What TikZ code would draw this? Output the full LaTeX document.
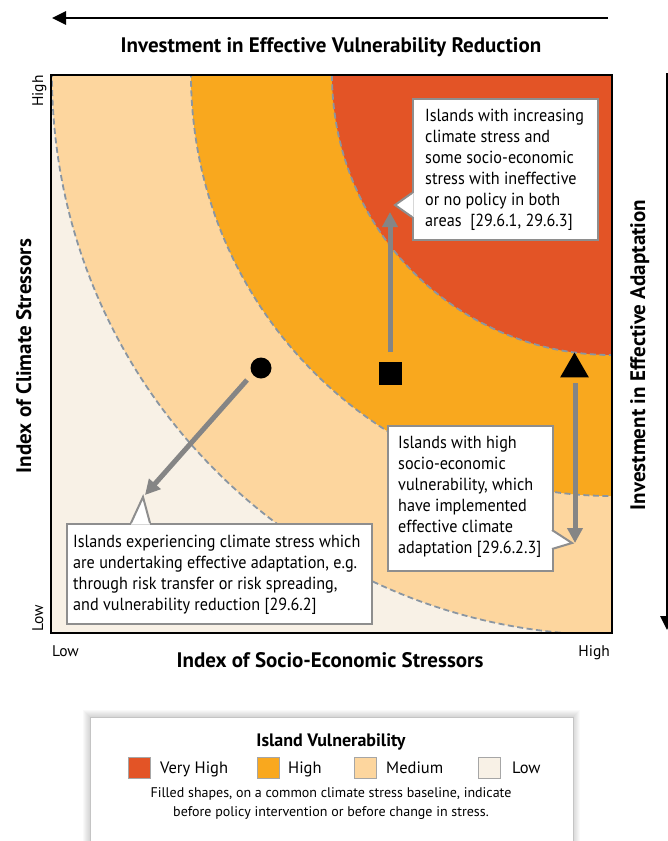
\documentclass[tikz,border=0pt]{standalone}
\usepackage{fontspec}
\setmainfont{PT Sans}
\newfontfamily\narrowfont{PT Sans}[FakeStretch=0.925]
\usetikzlibrary{arrows.meta,shapes.geometric}
\definecolor{vhighc}{HTML}{E35426}
\definecolor{highc}{HTML}{F9A81E}
\definecolor{medc}{HTML}{FDD69E}
\definecolor{lowc}{HTML}{F8F1E6}
\definecolor{zoneline}{HTML}{8A96A2}
\definecolor{arrowgray}{HTML}{858585}
\definecolor{calloutgray}{HTML}{8E8E8E}
\definecolor{legendgray}{HTML}{C4C4C4}
\begin{document}
\begin{tikzpicture}[x=1pt,y=-1pt,
  zone/.style={draw=zoneline, line width=1.8pt, dash pattern=on 6pt off 3.5pt},
  garrow/.style={draw=arrowgray, line width=5pt, -{Triangle[length=15pt,width=15pt]}},
  blackarrow/.style={draw=black, line width=2.7pt, -{Triangle[length=14pt,width=13pt]}},
  calloutbox/.style={draw=calloutgray, fill=white, line width=2pt, inner sep=0pt, anchor=north west},
  pointerline/.style={draw=calloutgray, line width=2pt, line join=miter},
  callouttext/.style={anchor=north west, align=left, inner sep=0pt, font=\narrowfont\fontsize{17.5}{21}\selectfont},
  axislabel/.style={font=\fontsize{21}{24}\selectfont\bfseries, inner sep=0pt},
  ticklabel/.style={font=\fontsize{15.5}{18}\selectfont, inner sep=0pt},
  swatch/.style={draw=gray!70, line width=0.8pt, minimum width=22pt, minimum height=21pt, inner sep=0pt, anchor=north west},
  legendlabel/.style={font=\fontsize{16.5}{20}\selectfont, inner sep=0pt, anchor=base west},
  marker/.style={fill=black, inner sep=0pt}
]
\useasboundingbox (0,0) rectangle (668,841);

% plot regions
\begin{scope}
  \clip (51,75) rectangle (612,633);
  \fill[lowc] (51,75) rectangle (612,633);
  \fill[medc] (612,75) circle[radius=560];
  \fill[highc] (612,75) circle[radius=421];
  \fill[vhighc] (612,75) circle[radius=280];
  \draw[zone] (612,75) circle[radius=560];
  \draw[zone] (612,75) circle[radius=421];
  \draw[zone] (612,75) circle[radius=280];
\end{scope}
\node[draw=black, line width=2.6pt, minimum width=561pt, minimum height=558pt, inner sep=0pt] (plot) at (331.5,354) {};

% top arrow and title
\coordinate (ta1) at (608,18);
\coordinate (ta2) at (52,18);
\draw[blackarrow] (ta1) -- (ta2);
\node[axislabel, anchor=base] (toptitle) at (331,52) {Investment in Effective Vulnerability Reduction};

% right arrow and title
\coordinate (ra1) at (667,73);
\coordinate (ra2) at (667,630);
\draw[blackarrow] (ra1) -- (ra2);
\node[axislabel, rotate=90, anchor=base] (righttitle) at (645,355) {Investment in Effective Adaptation};

% axis labels
\node[axislabel, anchor=base] (xlabel) at (330,667) {Index of Socio-Economic Stressors};
\node[axislabel, rotate=90, anchor=base] (ylabel) at (31,356) {Index of Climate Stressors};
\node[ticklabel, rotate=90, anchor=base east] (yhigh) at (43,75) {High};
\node[ticklabel, rotate=90, anchor=base west] (ylow) at (43,632) {Low};
\node[ticklabel, anchor=base west] (xlow) at (52,656) {Low};
\node[ticklabel, anchor=base east] (xhigh) at (610,656) {High};

% markers
\node[marker, circle, minimum size=21pt] (mcirc) at (261,368) {};
\node[marker, rectangle, minimum size=23pt] (msq) at (390,373.5) {};
\node[marker, regular polygon, regular polygon sides=3, minimum size=33pt] (mtri) at (574.5,369) {};

% callout 1
\node[calloutbox, minimum width=185pt, minimum height=141pt] (c1) at (412,98) {};
\fill[white] (413.6,193) -- (395,205) -- (413.6,217) -- cycle;
\draw[pointerline] (412,193) -- (395,205) -- (412,217);
\node[callouttext] (t1) at (425,108.5) {Islands with increasing\\climate stress and\\some socio-economic\\stress with ineffective\\or no policy in both\\areas~~[29.6.1, 29.6.3]};

% callout 2
\node[calloutbox, minimum width=165pt, minimum height=145pt] (c2) at (387,425) {};
\fill[white] (550.4,530) -- (572,543) -- (550.4,549) -- cycle;
\draw[pointerline] (552,530) -- (572,543) -- (552,549);
\node[callouttext] (t2) at (398,435.5) {Islands with high\\socio-economic\\vulnerability, which\\have implemented\\effective climate\\adaptation [29.6.2.3]};

% callout 3
\node[calloutbox, minimum width=305pt, minimum height=100pt] (c3) at (66,523) {};
\fill[white] (131,524.6) -- (143,497) -- (150,524.6) -- cycle;
\draw[pointerline] (131,523) -- (143,497) -- (150,523);
\node[callouttext] (t3) at (73,534.5) {Islands experiencing climate stress which\\are undertaking effective adaptation, e.g.\\through risk transfer or risk spreading,\\and vulnerability reduction [29.6.2]};

% gray arrows
\coordinate (g1s) at (390,352);
\coordinate (g1e) at (390,212);
\draw[garrow] (g1s) -- (g1e);
\coordinate (g2s) at (575,383);
\coordinate (g2e) at (575,543);
\draw[garrow] (g2s) -- (g2e);
\coordinate (g3s) at (247,380);
\coordinate (g3e) at (145,495);
\draw[garrow] (g3s) -- (g3e);

% legend
\foreach \i in {1,...,7}
  \fill[black, opacity=0.022] (90-\i,717-\i) rectangle (573+\i,860);
\node[draw=legendgray, fill=white, line width=1pt, minimum width=483pt, minimum height=143pt, anchor=north west, inner sep=0pt] (legend) at (90,717) {};
\node[font=\fontsize{18}{21}\selectfont\bfseries, inner sep=0pt, anchor=base] (legtitle) at (331,746) {Island Vulnerability};
\node[swatch, fill=vhighc] (sw1) at (128,757) {};
\node[swatch, fill=highc] (sw2) at (257,757) {};
\node[swatch, fill=medc] (sw3) at (354,757) {};
\node[swatch, fill=lowc] (sw4) at (478,757) {};
\node[legendlabel] (l1) at (160,773) {Very High};
\node[legendlabel] (l2) at (288,773) {High};
\node[legendlabel] (l3) at (386,773) {Medium};
\node[legendlabel] (l4) at (512,773) {Low};
\node[font=\fontsize{14}{19}\selectfont, inner sep=0pt, anchor=base, align=center] (note) at (331,816) {Filled shapes, on a common climate stress baseline, indicate\\before policy intervention or before change in stress.};
\end{tikzpicture}
\end{document}
